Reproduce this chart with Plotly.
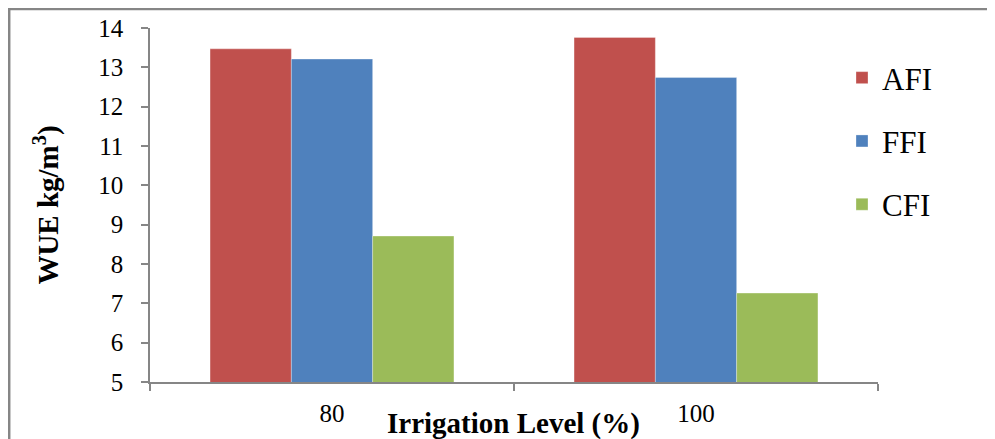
import plotly.graph_objects as go

categories = ["80", "100"]
series_names = ["AFI", "FFI", "CFI"]
afi = [13.47, 13.76]
ffi = [13.21, 12.74]
cfi = [8.71, 7.26]
colors = ["#C0504D", "#4F81BD", "#9BBB59"]
y_ticks = [5, 6, 7, 8, 9, 10, 11, 12, 13, 14]

# page body has an 8px margin; figure pixel = screen pixel - 8
W, H = 987, 431
L, R, T, B = 142, 117, 20, 57
pw, ph = W - L - R, H - T - B

font_family = "Liberation Serif"

fig = go.Figure()
for name, vals, col in zip(series_names, [afi, ffi, cfi], colors):
    fig.add_trace(go.Bar(
        x=categories, y=vals, name=name, marker_color=col,
        marker_line_width=0.6, marker_line_color="rgba(255,255,255,0.5)",
        legendgroup=name,
    ))

def px_to_paper_x(px):
    return (px - 8 - L) / pw

def px_to_paper_y(py):
    return (H - B - (py - 8)) / ph

gray = "#868686"
fig.update_layout(
    width=W, height=H,
    margin=dict(l=L, r=R, t=T, b=B, autoexpand=False),
    paper_bgcolor="white", plot_bgcolor="white",
    barmode="group", bargap=0.33, bargroupgap=0,
    font=dict(family=font_family, color="black", size=25),
    showlegend=True,
    legend=dict(
        x=px_to_paper_x(842), y=px_to_paper_y(51), xanchor="left", yanchor="top",
        font=dict(size=31, family=font_family), tracegroupgap=20,
        bgcolor="rgba(0,0,0,0)",
    ),
    xaxis=dict(
        type="category", showline=True, linecolor=gray, linewidth=1.5,
        ticks="outside", tickson="boundaries", ticklen=7, tickcolor=gray, tickwidth=1.5,
        tickfont=dict(size=25, family=font_family), ticklabelstandoff=8, showgrid=False,
    ),
    yaxis=dict(
        range=[5, 14], tickvals=y_ticks, showline=True, linecolor=gray, linewidth=1.5,
        ticks="outside", ticklen=7, tickcolor=gray, tickwidth=1.5,
        tickfont=dict(size=25, family=font_family), ticklabelstandoff=13,
        showgrid=False, zeroline=False,
        title=dict(text="<b>WUE kg/m</b><sup><b>3</b></sup><b>)</b>",
                   font=dict(size=29, family=font_family), standoff=31),
    ),
    annotations=[dict(
        text="<b>Irrigation Level (%)</b>", xref="paper", yref="paper",
        x=px_to_paper_x(513), y=px_to_paper_y(424), xanchor="center", yanchor="middle",
        showarrow=False, font=dict(size=29, family=font_family, color="black"),
    )],
    shapes=[
        dict(type="line", xref="paper", yref="paper",
             x0=px_to_paper_x(8), x1=px_to_paper_x(1100),
             y0=px_to_paper_y(9), y1=px_to_paper_y(9),
             line=dict(color=gray, width=2.5)),
        dict(type="line", xref="paper", yref="paper",
             x0=px_to_paper_x(9.2), x1=px_to_paper_x(9.2),
             y0=px_to_paper_y(8), y1=px_to_paper_y(500),
             line=dict(color=gray, width=2.5)),
    ],
)

fig.write_html("out.html")
